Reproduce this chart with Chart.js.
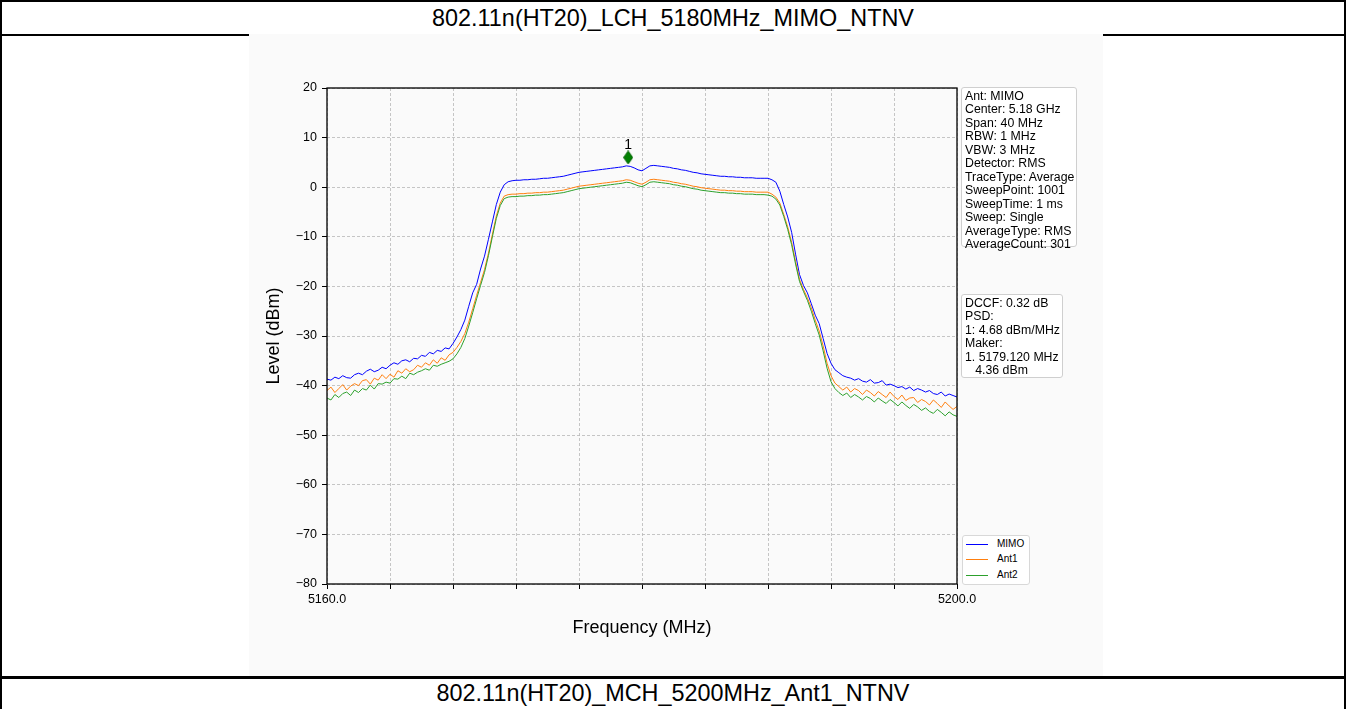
<!DOCTYPE html>
<html>
<head>
<meta charset="utf-8">
<script src="https://cdn.jsdelivr.net/npm/chart.js@4"></script>
<style>
  body { margin: 0; width: 1346px; height: 709px; position: relative; overflow: hidden; background: #fff;
         font-family: Arial, "Liberation Sans", sans-serif; color: #000; }
  .hline { position: absolute; left: 0; width: 1346px; background: #000; }
  .vline { position: absolute; top: 0; height: 709px; width: 2px; background: #000; }
  .title { position: absolute; left: 0; width: 1346px; text-align: center; font-size: 23.4px; }
  #wrap { position: absolute; left: 249px; top: 34px; width: 854px; height: 642px; background: #fafafa; }
  .box { position: absolute; background: #fff; border: 1px solid #cfcfcf; border-radius: 3px;
         font-size: 12.3px; line-height: 13.45px; padding: 2px 3px 2px 3px; white-space: pre; }
  .leg { position: absolute; left: 962px; top: 535px; width: 66px; height: 48px; background: #fff;
         border: 1px solid #d8d8d8; border-radius: 3px; font-size: 10px; }
  .leg div { position: absolute; left: 3px; height: 14px; line-height: 14px; }
  .leg span { display: inline-block; width: 22px; height: 1.5px; vertical-align: middle; margin-right: 9px; }
</style>
</head>
<body>
<div class="hline" style="top:0;height:2px"></div>
<div class="vline" style="left:0"></div>
<div class="vline" style="left:1344px"></div>
<div class="hline" style="top:34px;height:2px"></div>
<div class="title" style="top:0;height:34px;line-height:36px">802.11n(HT20)_LCH_5180MHz_MIMO_NTNV</div>
<div id="wrap"><canvas id="chart" width="854" height="642"></canvas></div>
<div class="hline" style="top:676px;height:3px"></div>
<div class="title" style="top:679px;height:30px;line-height:29px">802.11n(HT20)_MCH_5200MHz_Ant1_NTNV</div>

<div class="box" style="left:961px;top:87px;width:108px;height:154px">Ant: MIMO
Center: 5.18 GHz
Span: 40 MHz
RBW: 1 MHz
VBW: 3 MHz
Detector: RMS
TraceType: Average
SweepPoint: 1001
SweepTime: 1 ms
Sweep: Single
AverageType: RMS
AverageCount: 301</div>
<div class="box" style="left:961px;top:294px;width:94px;height:78px">DCCF: 0.32 dB
PSD:
1: 4.68 dBm/MHz
Maker:
1. 5179.120 MHz
   4.36 dBm</div>
<div class="leg">
  <div style="top:1px"><span style="background:#0000ff"></span>MIMO</div>
  <div style="top:16px"><span style="background:#ff7f0e"></span>Ant1</div>
  <div style="top:32px"><span style="background:#2ca02c"></span>Ant2</div>
</div>

<script>
// sweep: 5160 MHz .. 5200 MHz, one value every 0.25 MHz
const freqStart = 5160;
const freqStep = 0.25;

const mimo = [
  -38.7, -38.9, -38.3, -38.6, -38.0, -38.4, -38.5, -37.8,
  -37.5, -37.8, -37.1, -36.7, -37.2, -36.9, -36.3, -36.6,
  -35.9, -35.4, -35.7, -35.0, -34.8, -35.2, -34.5, -34.6,
  -33.9, -34.1, -33.3, -33.6, -32.9, -33.1, -32.4, -32.6,
  -31.5, -30.2, -28.7, -26.8, -24.0, -21.3, -19.6, -16.5,
  -13.9, -10.5, -7.0, -3.5, -1.0, 0.5, 1.1, 1.3,
  1.4, 1.4, 1.5, 1.5, 1.6, 1.6, 1.7, 1.8,
  1.8, 1.9, 2.0, 2.1, 2.2, 2.4, 2.6, 2.8,
  3.0, 3.1, 3.2, 3.3, 3.4, 3.5, 3.6, 3.7,
  3.8, 3.9, 4.0, 4.1, 4.3, 4.2, 3.9, 3.5,
  3.3, 3.8, 4.3, 4.4, 4.3, 4.2, 4.1, 4.0,
  3.8, 3.7, 3.5, 3.4, 3.2, 3.0, 2.9, 2.7,
  2.6, 2.5, 2.4, 2.3, 2.2, 2.2, 2.1, 2.1,
  2.0, 2.0, 1.9, 1.9, 1.9, 1.8, 1.8, 1.8,
  1.8, 1.5, 1.0, -0.8, -3.5, -6.0, -9.1, -13.5,
  -17.6, -19.8, -21.3, -23.5, -25.8, -27.5, -30.5, -33.5,
  -35.5, -36.8, -37.4, -38.0, -38.3, -38.5, -38.9, -38.6,
  -39.1, -39.3, -38.8, -39.5, -39.4, -39.0, -39.9, -39.7,
  -40.0, -40.4, -40.2, -40.7, -40.3, -41.0, -40.6, -40.9,
  -41.3, -41.0, -41.6, -41.8, -41.3, -42.1, -41.7, -42.0,
  -42.3
];

const ant1 = [
  -41.0, -40.3, -41.4, -40.6, -39.8, -40.9, -40.1, -39.6,
  -40.0, -39.0, -38.8, -39.7, -38.5, -38.9, -37.8, -38.6,
  -37.7, -38.3, -37.0, -37.5, -36.6, -37.2, -36.8, -35.9,
  -36.3, -35.4, -35.9, -34.8, -35.5, -34.4, -34.9, -33.8,
  -33.3, -32.3, -31.1, -29.5, -27.2, -24.5, -21.8, -19.2,
  -16.6, -13.3, -9.5, -5.8, -3.2, -1.8, -1.5, -1.4,
  -1.4, -1.3, -1.3, -1.2, -1.2, -1.1, -1.1, -1.0,
  -1.0, -0.9, -0.8, -0.7, -0.6, -0.4, -0.2, 0.0,
  0.2, 0.3, 0.4, 0.5, 0.6, 0.7, 0.8, 0.9,
  1.0, 1.1, 1.2, 1.3, 1.5, 1.4, 1.1, 0.8,
  0.6, 1.0, 1.5, 1.6, 1.5, 1.4, 1.3, 1.2,
  1.0, 0.9, 0.7, 0.6, 0.4, 0.2, 0.1, -0.1,
  -0.2, -0.3, -0.4, -0.5, -0.6, -0.6, -0.7, -0.7,
  -0.8, -0.8, -0.9, -0.9, -0.9, -1.0, -1.0, -1.0,
  -1.0, -1.4, -2.0, -3.2, -5.5, -8.0, -11.1, -15.0,
  -18.6, -20.6, -22.3, -24.3, -26.8, -29.0, -32.0, -35.5,
  -38.0, -39.5, -40.2, -40.9, -40.3, -41.3, -40.6, -41.0,
  -41.8, -40.9, -41.4, -42.1, -41.2, -41.8, -42.4, -41.3,
  -42.2, -42.8, -41.9, -43.0, -42.5, -42.4, -43.4, -42.8,
  -43.2, -43.9, -42.9, -43.6, -44.4, -43.3, -44.1, -44.8,
  -44.2
];

const ant2 = [
  -42.5, -42.9, -41.8, -42.4, -41.6, -41.3, -42.0, -40.9,
  -41.4, -40.6, -40.9, -39.9, -40.7, -39.6, -39.7, -39.3,
  -39.5, -38.6, -38.7, -38.1, -38.6, -37.5, -37.8, -37.3,
  -37.0, -36.6, -36.9, -35.9, -36.1, -35.7, -35.4, -35.1,
  -34.6, -33.6, -32.3, -30.5, -28.0, -25.3, -22.5, -19.8,
  -17.2, -13.8, -10.0, -6.3, -3.7, -2.3, -2.0, -1.9,
  -1.9, -1.8, -1.8, -1.7, -1.7, -1.6, -1.6, -1.5,
  -1.5, -1.4, -1.3, -1.2, -1.1, -0.9, -0.7, -0.5,
  -0.3, -0.2, -0.1, 0.0, 0.1, 0.2, 0.3, 0.4,
  0.5, 0.6, 0.7, 0.8, 1.0, 0.9, 0.6, 0.3,
  0.1, 0.5, 1.0, 1.1, 1.0, 0.9, 0.8, 0.7,
  0.5, 0.4, 0.2, 0.1, -0.1, -0.3, -0.4, -0.6,
  -0.7, -0.8, -0.9, -1.0, -1.1, -1.1, -1.2, -1.2,
  -1.3, -1.3, -1.4, -1.4, -1.4, -1.5, -1.5, -1.5,
  -1.6, -1.8, -2.4, -3.6, -5.9, -8.5, -11.6, -15.5,
  -19.0, -21.0, -22.8, -25.0, -27.5, -29.8, -33.0, -36.5,
  -39.2, -40.6, -41.4, -42.0, -41.5, -42.4, -41.8, -42.3,
  -42.9, -42.2, -42.6, -43.3, -42.5, -43.1, -43.6, -42.8,
  -43.4, -44.1, -43.3, -44.0, -44.6, -43.8, -44.3, -45.0,
  -44.5, -45.2, -45.6, -44.8, -45.4, -46.1, -45.3, -45.9,
  -46.2
];

const markerFreq = [5179.12];
const markerLevel = [6.0];
const markerLabels = ['1'];

const xTicksLabelled = [5160, 5200];

function toPoints(values) {
  return values.map((v, i) => ({ x: freqStart + i * freqStep, y: v }));
}

// thin diamond like matplotlib's 'd' marker
const diamond = document.createElement('canvas');
diamond.width = 10;
diamond.height = 14;
(function() {
  const c = diamond.getContext('2d');
  c.beginPath();
  c.moveTo(5, 0.5); c.lineTo(9.5, 7); c.lineTo(5, 13.5); c.lineTo(0.5, 7); c.closePath();
  c.fillStyle = '#008000';
  c.fill();
  c.strokeStyle = '#006400';
  c.stroke();
})();

const framePlugin = {
  id: 'frame',
  afterDatasetsDraw(chart) {
    const { ctx, chartArea: a } = chart;
    ctx.save();
    ctx.strokeStyle = '#000';
    ctx.lineWidth = 1.3;
    ctx.strokeRect(a.left, a.top, a.right - a.left, a.bottom - a.top);
    const meta = chart.getDatasetMeta(3);
    ctx.fillStyle = '#000';
    ctx.font = '14px Arial, "Liberation Sans", sans-serif';
    ctx.textAlign = 'center';
    ctx.textBaseline = 'bottom';
    meta.data.forEach((pt, i) => ctx.fillText(markerLabels[i], pt.x, pt.y - 5));
    ctx.restore();
  }
};

const font = { family: 'Arial, "Liberation Sans", sans-serif', size: 12.5 };

new Chart(document.getElementById('chart'), {
  type: 'line',
  data: {
    datasets: [
      { label: 'MIMO', data: toPoints(mimo), borderColor: '#0000ff', borderWidth: 1, pointRadius: 0, order: 3 },
      { label: 'Ant1', data: toPoints(ant1), borderColor: '#ff7f0e', borderWidth: 1, pointRadius: 0, order: 2 },
      { label: 'Ant2', data: toPoints(ant2), borderColor: '#2ca02c', borderWidth: 1, pointRadius: 0, order: 1 },
      { label: 'marker', data: markerFreq.map((f, i) => ({ x: f, y: markerLevel[i] })),
        showLine: false, pointStyle: diamond, pointRadius: 6, order: 0 }
    ]
  },
  options: {
    responsive: false,
    animation: false,
    events: [],
    layout: { padding: { left: 0, top: 54, right: 146, bottom: 0 } },
    plugins: { legend: { display: false }, tooltip: { enabled: false } },
    scales: {
      x: {
        type: 'linear', min: 5160, max: 5200,
        afterFit(s) { s.height = 92; },
        ticks: {
          stepSize: 4, autoSkip: false, maxRotation: 0, color: '#000', font, padding: 3,
          callback: v => xTicksLabelled.includes(v) ? v.toFixed(1) : ''
        },
        grid: { color: '#b8b8b8', lineWidth: 0.8, tickColor: '#000', tickLength: 5, tickWidth: 1 },
        border: { display: false, dash: [3, 2] },
        title: { display: true, text: 'Frequency (MHz)', color: '#000',
                 font: { family: font.family, size: 18 }, padding: { top: 0, bottom: 37 } }
      },
      y: {
        min: -80, max: 20,
        afterFit(s) { s.width = 78; },
        ticks: { stepSize: 10, color: '#000', font, padding: 5,
                 callback: v => String(v).replace('-', '\u2212') },
        grid: { color: '#b8b8b8', lineWidth: 0.8, tickColor: '#000', tickLength: 5, tickWidth: 1 },
        border: { display: false, dash: [3, 2] },
        title: { display: true, text: 'Level (dBm)', color: '#000',
                 font: { family: font.family, size: 18 }, padding: { top: 14, bottom: 0 } }
      }
    }
  },
  plugins: [framePlugin]
});
</script>
</body>
</html>
